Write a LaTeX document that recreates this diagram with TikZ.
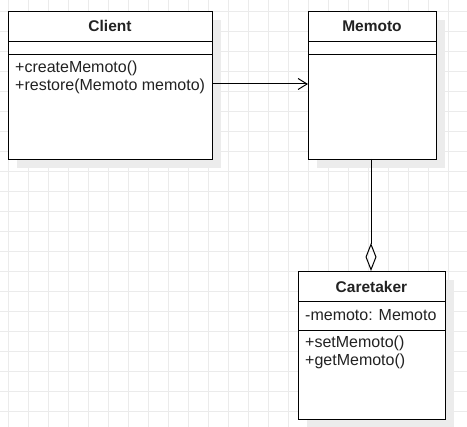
\documentclass[tikz,border=0pt]{standalone}
\usepackage{fontspec}
\setmainfont{Liberation Sans}
\usetikzlibrary{arrows.meta}
\definecolor{gridc}{HTML}{EBEBEB}
\definecolor{shadowc}{HTML}{ECECEC}
\definecolor{textc}{HTML}{222222}
\begin{document}
\begin{tikzpicture}[x=1pt,y=-1pt,
  box/.style={draw=black,line width=1pt,fill=white},
  sep/.style={draw=black,line width=1pt},
  ttl/.style={font=\fontsize{15.5}{18}\selectfont\bfseries,inner sep=0pt,text=textc},
  txt/.style={font=\fontsize{16}{18}\selectfont,inner sep=0pt,anchor=west,text=textc}]
\useasboundingbox (0,0) rectangle (467,427);
\fill[white] (0,0) rectangle (467,427);
\foreach \x in {8,28,...,467} \draw[gridc,line width=0.8pt] (\x,0) -- (\x,427);
\foreach \y in {11,31,...,427} \draw[gridc,line width=0.8pt] (0,\y) -- (467,\y);
% shadows
\fill[shadowc] (17,20) rectangle (221,168);
\fill[shadowc] (317,20) rectangle (445,168);
\fill[shadowc] (307,280) rectangle (454,428);
% Client
\node[box,minimum width=204pt,minimum height=148pt,inner sep=0pt,anchor=north west] (client) at (8,11) {};
\draw[sep] (8,42) -- (212,42);
\draw[sep] (8,55) -- (212,55);
\node[ttl] (clientT) at (110,26) {Client};
\node[txt] (c1) at (15,68) {+createMemoto()};
\node[txt] (c2) at (15,86) {+restore(Memoto memoto)};
% Memoto
\node[box,minimum width=128pt,minimum height=148pt,inner sep=0pt,anchor=north west] (memoto) at (308,11) {};
\draw[sep] (308,42) -- (436,42);
\draw[sep] (308,55) -- (436,55);
\node[ttl] (memotoT) at (372,26) {Memoto};
% Caretaker
\node[box,minimum width=147pt,minimum height=148pt,inner sep=0pt,anchor=north west] (care) at (298,271) {};
\draw[sep] (298,302) -- (445,302);
\draw[sep] (298,331) -- (445,331);
\node[ttl] (careT) at (371.5,287) {Caretaker};
\node[txt] (k1) at (305,315) {-memoto: Memoto};
\node[txt] (k2) at (305,343) {+setMemoto()};
\node[txt] (k3) at (305,361) {+getMemoto()};
% connectors
\coordinate (a1) at (212,84);
\coordinate (a2) at (308,84);
\draw[line width=1pt,-{Straight Barb[length=9pt,width=11pt,line width=1pt]}] (a1) -- (a2);
\coordinate (b1) at (371,159);
\coordinate (b2) at (371,271);
\draw[line width=1pt,-{Diamond[open,length=28pt,width=11pt,line width=1pt]}] (b1) -- (b2);
\end{tikzpicture}
\end{document}
